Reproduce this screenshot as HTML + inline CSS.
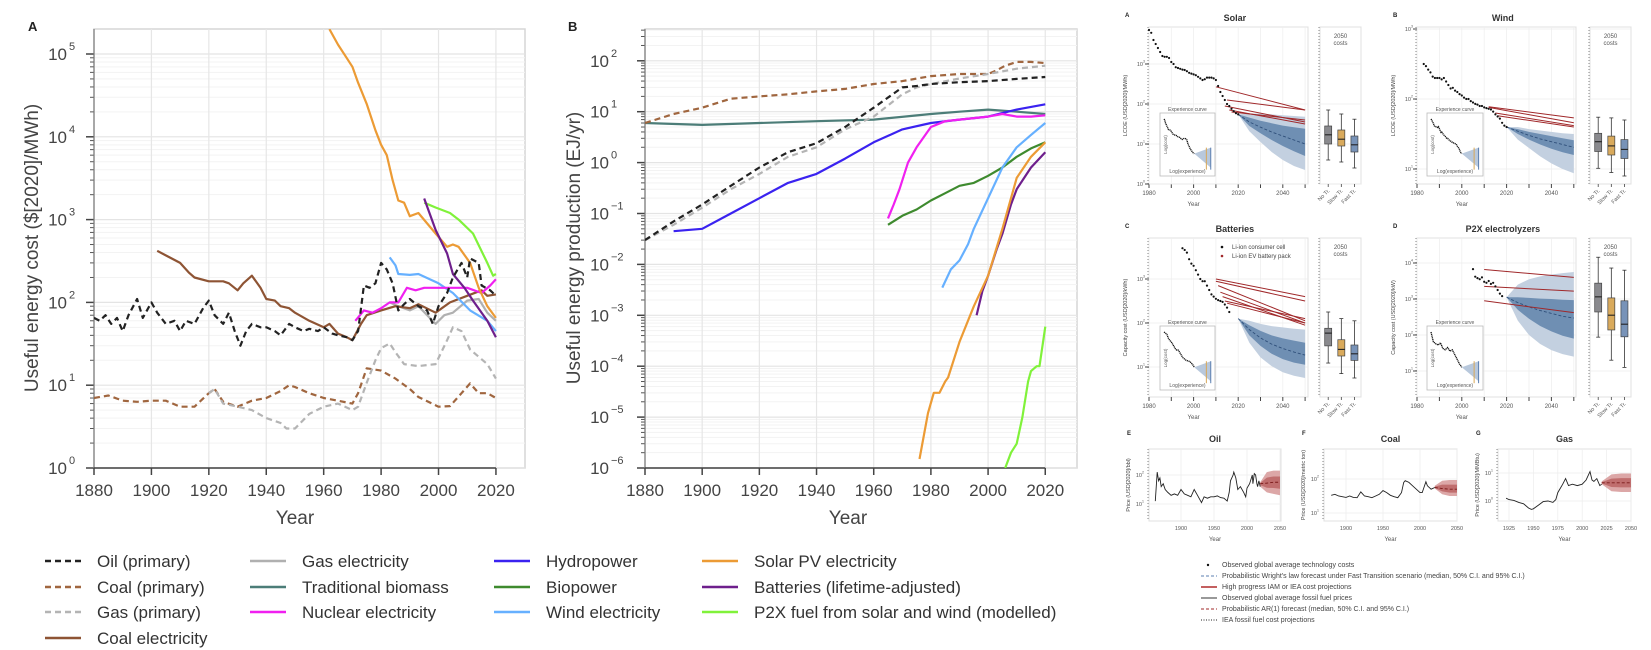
<!DOCTYPE html>
<html><head><meta charset="utf-8"><title>Energy costs and production</title>
<style>
html,body{margin:0;padding:0;background:#fff;}
svg{display:block;font-family:"Liberation Sans",sans-serif;}
</style></head>
<body>
<svg id="fig" width="1651" height="650" viewBox="0 0 1651 650" xmlns="http://www.w3.org/2000/svg">
<defs>
<clipPath id="clipA"><rect x="94" y="29" width="431" height="439"/></clipPath>
<clipPath id="clipB"><rect x="645" y="29" width="432" height="439"/></clipPath>
</defs>
<rect x="0" y="0" width="1651" height="650" fill="#fff"/>
<text x="28" y="31" font-size="13" font-weight="bold" fill="#222">A</text>
<text x="568" y="31" font-size="13" font-weight="bold" fill="#222">B</text>
<text transform="translate(38,248) rotate(-90)" text-anchor="middle" font-size="19" fill="#444">Useful energy cost ($[2020]/MWh)</text>
<text transform="translate(580,248) rotate(-90)" text-anchor="middle" font-size="19" fill="#444">Useful energy production (EJ/yr)</text>
<text x="295" y="524" text-anchor="middle" font-size="19" fill="#444">Year</text>
<text x="848" y="524" text-anchor="middle" font-size="19" fill="#444">Year</text>
<g id="legendMain"></g>
<g id="right"></g>
</svg>
<script>
// ===== Panel A data (cost, $/MWh) =====
const oilCostYears=[1880,1882,1884,1886,1888,1890,1892,1895,1897,1900,1902,1905,1908,1910,1912,1915,1918,1920,1922,1925,1927,1929,1931,1933,1935,1938,1940,1943,1945,1948,1950,1953,1955,1958,1960,1963,1965,1968,1970,1972,1974,1976,1978,1980,1982,1984,1986,1988,1990,1993,1996,1998,2000,2003,2005,2008,2010,2011,2014,2015,2018,2020];
const oilCostVals=[65,60,70,55,65,45,70,110,65,100,75,55,60,45,60,55,85,105,70,55,75,45,30,45,55,50,50,45,40,55,50,45,48,45,50,42,40,38,35,45,160,150,170,300,250,170,80,95,110,90,80,55,90,130,200,300,200,340,300,160,140,120];
const coalPrimCostYears=[1880,1885,1890,1895,1900,1905,1910,1915,1920,1922,1925,1930,1935,1940,1945,1948,1950,1955,1960,1965,1970,1972,1975,1980,1985,1990,1993,2000,2004,2008,2011,2014,2017,2020];
const coalPrimCostVals=[7,7.5,6.5,6.3,6.5,6.5,5.5,5.5,8,9,6.3,5.5,6.5,7,8.5,10,9.5,8,7,6.5,6,8,16,15,12,9,7.2,5.5,5.6,8,10.5,8,8,7];
const gasPrimCostYears=[1920,1922,1925,1930,1935,1940,1945,1947,1950,1955,1960,1965,1970,1972,1975,1978,1980,1983,1985,1988,1993,1999,2003,2005,2008,2011,2014,2017,2020];
const gasPrimCostVals=[8,9,6,5.5,5,4,3.5,3,3,4.5,5.5,6,5,5.5,10.7,20,28,32,25,18,17,18,35,50,45,27,22,18,12];
const coalElecYears=[1902,1905,1910,1913,1915,1920,1925,1927,1930,1932,1935,1938,1940,1943,1945,1948,1950,1955,1960,1962,1965,1968,1970,1973,1975,1980,1985,1990,1993,1999,2004,2010,2015,2017,2020];
const coalElecVals=[420,370,300,230,200,180,180,170,140,170,210,150,110,105,90,85,75,60,50,55,42,38,35,55,70,80,90,85,95,75,100,120,140,120,125];
const gasElecYears=[1983,1986,1990,1993,1999,2002,2005,2010,2014,2017,2020];
const gasElecVals=[100,90,80,90,55,70,75,105,110,75,60];
const nuclearCostYears=[1971,1974,1977,1980,1983,1986,1989,1992,1995,2000,2005,2010,2015,2018,2020];
const nuclearCostVals=[60,80,75,85,100,100,150,140,150,150,150,150,130,160,190];
const windCostYears=[1983,1985,1986,1990,1993,2000,2005,2011,2017,2020];
const windCostVals=[350,280,220,215,220,170,130,80,60,45];
const solarCostYears=[1962,1965,1968,1970,1972,1975,1978,1980,1982,1984,1986,1988,1990,1993,1999,2003,2005,2007,2011,2014,2017,2020];
const solarCostVals=[200000,130000,90000,70000,45000,25000,12000,8000,6000,3000,1700,1600,1100,1200,680,470,500,470,300,150,90,65];
const batteryCostYears=[1995,1999,2003,2005,2009,2012,2017,2020];
const batteryCostVals=[1800,750,390,220,150,105,60,38];
const p2xCostYears=[1995,1999,2004,2007,2012,2017,2019,2020];
const p2xCostVals=[1600,1400,1200,1000,680,300,210,220];
// ===== Panel B data (production, EJ/yr) =====
const coalProdYears=[1880,1890,1900,1910,1920,1930,1940,1950,1960,1970,1980,1990,2000,2003,2006,2010,2015,2020];
const coalProdVals=[6,9,12,18,20,22,25,28,35,40,50,55,55,65,80,95,95,90];
const biomassYears=[1880,1900,1920,1940,1960,1980,1990,2000,2010,2020];
const biomassVals=[6,5.5,6,6.5,7,9,10,11,10,9];
const oilProdYears=[1880,1890,1900,1910,1920,1930,1940,1950,1960,1970,1975,1980,1990,2000,2010,2020];
const oilProdVals=[0.03,0.07,0.15,0.35,0.8,1.6,2.4,5,12,30,32,35,38,40,44,48];
const gasProdYears=[1880,1890,1900,1910,1920,1930,1940,1950,1960,1970,1975,1980,1990,2000,2010,2020];
const gasProdVals=[0.03,0.06,0.13,0.3,0.6,1.3,2,4.5,8,22,30,35,45,55,70,80];
const hydroYears=[1890,1900,1910,1920,1930,1940,1950,1960,1970,1980,1990,2000,2010,2020];
const hydroVals=[0.045,0.05,0.1,0.2,0.4,0.6,1.2,2.5,4.5,6,7,8,11,14];
const nuclearProdYears=[1965,1967,1969,1972,1975,1980,1985,1990,2000,2005,2010,2015,2020];
const nuclearProdVals=[0.08,0.15,0.3,1,2,5,6.5,7,8,9,8,8,8.5];
const bioYears=[1965,1970,1975,1980,1985,1990,1995,2000,2005,2010,2015,2020];
const bioVals=[0.06,0.09,0.12,0.18,0.25,0.35,0.4,0.55,0.8,1.3,1.9,2.5];
const windProdYears=[1984,1987,1990,1993,1995,2000,2005,2010,2015,2020];
const windProdVals=[0.0035,0.008,0.012,0.025,0.05,0.2,0.8,2,3.5,6];
const batteryProdYears=[1996,1998,2000,2003,2005,2008,2010,2015,2020];
const batteryProdVals=[0.001,0.003,0.006,0.02,0.04,0.15,0.3,0.8,1.6];
const solarProdYears=[1976,1979,1981,1983,1985,1986,1990,1995,2000,2005,2010,2015,2020];
const solarProdVals=[0.0000015,0.000012,0.00003,0.00003,0.00005,0.00006,0.0003,0.0015,0.006,0.05,0.5,1.3,2.5];
const p2xProdYears=[2006,2008,2010,2012,2014,2015,2017,2018,2020];
const p2xProdVals=[0.000001,0.000002,0.000003,0.00001,0.00005,0.00008,0.0001,0.0001,0.0006];
// ===== Tick labels =====
const yearTicks=[1880,1900,1920,1940,1960,1980,2000,2020];
const costExps=[0,1,2,3,4,5];
const prodExps=[-6,-5,-4,-3,-2,-1,0,1,2];

const NS='http://www.w3.org/2000/svg';
const svg=document.getElementById('fig');
function mk(tag,attrs,parent){const e=document.createElementNS(NS,tag);for(const k in attrs)e.setAttribute(k,attrs[k]);(parent||svg).appendChild(e);return e;}

const C={oil:'#222',coalP:'#a0663f',gasP:'#b4b4b4',coalE:'#8e5434',gasE:'#b0b0b0',bio:'#4c7d78',nuc:'#f020f0',hydro:'#3a22f0',biop:'#3e8a2e',wind:'#66b0ff',solar:'#ec9b35',bat:'#6e1f8c',p2x:'#80f23a'};

function mainPanel(p){
  const g=mk('g',{});
  
  
  const X=yr=>p.x0+(yr-1880)*p.ppy;
  const Y=lg=>p.yb-(lg-p.logMin)*p.dec;
  const fr=mk('rect',{x:p.x0,y:p.yt,width:p.x1-p.x0,height:p.yb-p.yt,fill:'#fff',stroke:'#d6d6d6','stroke-width':1.5},g);
  
  
  for(let e=p.logMin;e<=p.logMax+1;e++){
    for(let k=2;k<10;k++){const lg=e+Math.log10(k);if(lg>p.logTop)break;
      const y=Y(lg);
      const gl=mk('line',{x1:p.x0,x2:p.x1,y1:y,y2:y,stroke:'#f3f3f3','stroke-width':1},g);
      
      
      const tk=mk('line',{x1:p.x0-4,x2:p.x0,y1:y,y2:y,stroke:'#555','stroke-width':1},g);
      
      
    }
  }
  p.exps.forEach(e=>{const y=Y(e);
    const gl=mk('line',{x1:p.x0,x2:p.x1,y1:y,y2:y,stroke:'#e4e4e4','stroke-width':1.2},g);
    
    
    const tk=mk('line',{x1:p.x0-8,x2:p.x0,y1:y,y2:y,stroke:'#444','stroke-width':1.5},g);
    
    
    const t=mk('text',{x:p.labX,y:y+6,'text-anchor':'end','font-size':17,fill:'#444'},g);
    
    
    t.textContent='10';
    const s=mk('text',{x:p.labX+2,y:y-4,'font-size':11,fill:'#444'},g);
    
    
    s.textContent=e<0?'\u2212'+(-e):String(e);
  });
  yearTicks.forEach(yr=>{const x=X(yr);
    const gl=mk('line',{x1:x,x2:x,y1:p.yt,y2:p.yb,stroke:'#e6e6e6','stroke-width':1.2},g);
    
    
    const tk=mk('line',{x1:x,x2:x,y1:p.yb,y2:p.yb+7,stroke:'#444','stroke-width':1.5},g);
    
    
    const t=mk('text',{x:x,y:p.yb+28,'text-anchor':'middle','font-size':17,fill:'#444'},g);
    
    
    t.textContent=yr;
  });
  const ax=mk('line',{x1:p.x0,x2:p.x0,y1:p.yt,y2:p.yb,stroke:'#666','stroke-width':1},g);
  
  
  const ax2=mk('line',{x1:X(1880),x2:X(2020),y1:p.yb,y2:p.yb,stroke:'#444','stroke-width':1.5},g);
  
  
  const sg=mk('g',{'clip-path':'url(#'+p.clip+')'},g);
  
  
  p.series.forEach(s=>{
    const pts=s.yrs.map((yr,i)=>X(yr).toFixed(1)+','+Y(Math.log10(s.vals[i])).toFixed(1)).join(' ');
    const a={points:pts,fill:'none',stroke:s.c,'stroke-width':2.2,'stroke-linejoin':'round'};
    if(s.d)a['stroke-dasharray']='6,4';
    const pl=mk('polyline',a,sg);
    
    
  });
}

mainPanel({name:'panel-a-cost-chart',x0:94,x1:525,yt:29,yb:468,ppy:2.871,logMin:0,logMax:5,logTop:5.3,dec:82.8,exps:costExps,labX:67,clip:'clipA',
 series:[
  {n:'line-coal-primary-cost',yrs:coalPrimCostYears,vals:coalPrimCostVals,c:C.coalP,d:1},
  {n:'line-gas-primary-cost',yrs:gasPrimCostYears,vals:gasPrimCostVals,c:C.gasP,d:1},
  {n:'line-gas-electricity-cost',yrs:gasElecYears,vals:gasElecVals,c:C.gasE},
  {n:'line-coal-electricity-cost',yrs:coalElecYears,vals:coalElecVals,c:C.coalE},
  {n:'line-wind-cost',yrs:windCostYears,vals:windCostVals,c:C.wind},
  {n:'line-nuclear-cost',yrs:nuclearCostYears,vals:nuclearCostVals,c:C.nuc},
  {n:'line-solar-cost',yrs:solarCostYears,vals:solarCostVals,c:C.solar},
  {n:'line-p2x-cost',yrs:p2xCostYears,vals:p2xCostVals,c:C.p2x},
  {n:'line-batteries-cost',yrs:batteryCostYears,vals:batteryCostVals,c:C.bat},
  {n:'line-oil-primary-cost',yrs:oilCostYears,vals:oilCostVals,c:C.oil,d:1}
 ]});
mainPanel({name:'panel-b-production-chart',x0:645,x1:1077,yt:29,yb:468,ppy:2.859,logMin:-6,logMax:2,logTop:2.63,dec:50.9,exps:prodExps,labX:609,clip:'clipB',
 series:[
  {n:'line-biomass-production',yrs:biomassYears,vals:biomassVals,c:C.bio},
  {n:'line-coal-primary-production',yrs:coalProdYears,vals:coalProdVals,c:C.coalP,d:1},
  {n:'line-gas-primary-production',yrs:gasProdYears,vals:gasProdVals,c:C.gasP,d:1},
  {n:'line-oil-primary-production',yrs:oilProdYears,vals:oilProdVals,c:C.oil,d:1},
  {n:'line-hydropower-production',yrs:hydroYears,vals:hydroVals,c:C.hydro},
  {n:'line-nuclear-production',yrs:nuclearProdYears,vals:nuclearProdVals,c:C.nuc},
  {n:'line-biopower-production',yrs:bioYears,vals:bioVals,c:C.biop},
  {n:'line-wind-production',yrs:windProdYears,vals:windProdVals,c:C.wind},
  {n:'line-batteries-production',yrs:batteryProdYears,vals:batteryProdVals,c:C.bat},
  {n:'line-solar-production',yrs:solarProdYears,vals:solarProdVals,c:C.solar},
  {n:'line-p2x-production',yrs:p2xProdYears,vals:p2xProdVals,c:C.p2x}
 ]});

// ===== Main legend =====
const legendLabels=['Oil (primary)','Coal (primary)','Gas (primary)','Coal electricity','Gas electricity','Traditional biomass','Nuclear electricity','Hydropower','Biopower','Wind electricity','Solar PV electricity','Batteries (lifetime-adjusted)','P2X fuel from solar and wind (modelled)'];
const legendColors=[C.oil,C.coalP,C.gasP,C.coalE,C.gasE,C.bio,C.nuc,C.hydro,C.biop,C.wind,C.solar,C.bat,C.p2x];
const legendCols=[[0,1,2,3],[4,5,6],[7,8,9],[10,11,12]];
const colX=[45,250,494,702];
const rowY=[561,587,612,638];
const lg=document.getElementById('legendMain');
legendCols.forEach((col,ci)=>col.forEach((idx,ri)=>{
  const y=rowY[ri],x=colX[ci];
  const a={x1:x,x2:x+36,y1:y,y2:y,stroke:legendColors[idx],'stroke-width':2.5};
  if(idx<3)a['stroke-dasharray']='6,4';
  const l=mk('line',a,lg);
  
  
  const t=mk('text',{x:x+52,y:y+6,'font-size':17,fill:'#333'},lg);
  
  
  t.textContent=legendLabels[idx];
}));

// ===== Right figure: technology cost panels =====
const bandYears=[2020,2025,2030,2035,2040,2045,2050];
const solarObsYears=[1980,1981,1982,1983,1984,1985,1986,1987,1988,1989,1990,1991,1992,1993,1994,1995,1996,1997,1998,1999,2000,2001,2002,2003,2004,2005,2006,2007,2008,2009,2010,2011,2012,2013,2014,2015,2016,2017,2018,2019,2020];
const solarObsLog=[3.85,3.78,3.6,3.5,3.4,3.3,3.2,3.18,3.18,3.15,3.05,3.0,2.92,2.9,2.88,2.86,2.85,2.82,2.78,2.76,2.74,2.72,2.68,2.64,2.6,2.62,2.66,2.66,2.66,2.64,2.6,2.45,2.3,2.2,2.1,2.0,1.95,1.88,1.82,1.77,1.74];
const solarMed=[1.74,1.55,1.42,1.3,1.2,1.1,1.0];
const solarHi50=[1.74,1.66,1.58,1.52,1.46,1.42,1.38];
const solarLo50=[1.74,1.45,1.27,1.1,0.95,0.82,0.7];
const solarHi95=[1.74,1.76,1.76,1.74,1.72,1.7,1.68];
const solarLo95=[1.74,1.32,1.05,0.8,0.6,0.45,0.35];
const solarRedStartYear=[2010,2015,2014,2016,2017];
const solarRedStart=[2.43,2.1,1.95,1.85,1.8];
const solarRedEnd=[1.85,1.85,1.55,1.5,1.6];
const solarBoxes=[[0.6,1.0,1.23,1.45,1.85],[0.55,0.95,1.12,1.35,1.75],[0.4,0.8,0.98,1.2,1.62]];

const windObsYears=[1983,1984,1985,1986,1987,1988,1989,1990,1991,1992,1993,1994,1995,1996,1997,1998,1999,2000,2001,2002,2003,2004,2005,2006,2007,2008,2009,2010,2011,2012,2013,2014,2015,2016,2017,2018,2019,2020];
const windObsLog=[2.5,2.47,2.42,2.38,2.32,2.3,2.3,2.3,2.28,2.3,2.25,2.2,2.15,2.16,2.12,2.1,2.07,2.05,2.02,2.0,2.0,1.97,1.95,1.93,1.92,1.9,1.9,1.88,1.87,1.86,1.85,1.82,1.78,1.75,1.72,1.66,1.62,1.6];
const windMed=[1.6,1.54,1.48,1.43,1.39,1.35,1.31];
const windHi50=[1.6,1.57,1.53,1.5,1.47,1.44,1.41];
const windLo50=[1.6,1.5,1.42,1.35,1.29,1.24,1.2];
const windHi95=[1.6,1.6,1.57,1.55,1.53,1.51,1.5];
const windLo95=[1.6,1.42,1.3,1.18,1.08,1.0,0.94];
const windRedStartYear=[2012,2012,2015,2016];
const windRedStart=[1.89,1.88,1.8,1.76];
const windRedEnd=[1.73,1.66,1.62,1.6];
const windBoxes=[[1.01,1.25,1.39,1.51,1.74],[0.95,1.2,1.33,1.47,1.73],[0.9,1.15,1.28,1.42,1.7]];

const batObsYears=[1995,1996,1997,1998,1999,2000,2001,2002,2003,2004,2005,2006,2007,2008,2009,2010,2011,2012,2013,2014,2015,2016];
const batObsLog=[3.7,3.66,3.6,3.45,3.35,3.3,3.2,3.1,3.0,2.95,2.95,2.85,2.75,2.65,2.6,2.55,2.52,2.5,2.48,2.42,2.35,2.25];
const batMed=[2.1,1.85,1.66,1.52,1.42,1.34,1.27];
const batHi50=[2.1,1.95,1.82,1.72,1.65,1.6,1.55];
const batLo50=[2.1,1.72,1.48,1.3,1.18,1.1,1.05];
const batHi95=[2.1,2.05,1.98,1.93,1.9,1.87,1.85];
const batLo95=[2.1,1.55,1.22,1.02,0.88,0.8,0.75];
const batRedStartYear=[2010,2010,2011,2012,2013,2014,2015];
const batRedStart=[3.0,2.95,2.85,2.7,2.6,2.5,2.45];
const batRedEnd=[2.6,2.5,2.05,2.0,1.95,2.1,2.0];
const batBoxes=[[1.09,1.48,1.77,1.88,2.25],[0.85,1.25,1.4,1.62,2.1],[0.75,1.15,1.3,1.5,2.05]];

const p2xObsYears=[2005,2006,2007,2008,2009,2010,2011,2012,2013,2014,2015,2016,2017,2018];
const p2xObsLog=[3.83,3.62,3.58,3.55,3.6,3.48,3.45,3.5,3.42,3.45,3.35,3.25,3.15,3.08];
const p2xMed=[3.05,2.9,2.78,2.68,2.6,2.52,2.47];
const p2xHi50=[3.05,3.05,3.03,3.01,3.0,2.98,2.97];
const p2xLo50=[3.05,2.7,2.45,2.25,2.1,1.98,1.9];
const p2xHi95=[3.05,3.4,3.55,3.63,3.68,3.72,3.75];
const p2xLo95=[3.05,2.4,2.0,1.75,1.58,1.47,1.4];
const p2xRedStartYear=[2010,2010,2010];
const p2xRedStart=[3.82,3.35,2.95];
const p2xRedEnd=[3.6,3.22,2.62];
const p2xBoxes=[[1.94,2.64,3.06,3.44,4.16],[1.3,2.14,2.55,3.03,3.86],[1.1,1.95,2.3,2.95,3.8]];

const rg=document.getElementById('right');
function txt(x,y,s,size,attrs,name){const a=Object.assign({x:x,y:y,'font-size':size,fill:'#333'},attrs||{});const t=mk('text',a,rg);t.textContent=s;return t;}

function techPanel(p){
  const X=yr=>p.x0+(yr-1980)*p.ppy;
  const Y=lg=>p.yRef-(lg-p.logRef)*p.dec;
  const fr=mk('rect',{x:p.x0,y:p.yt,width:p.x1-p.x0,height:p.yb-p.yt,fill:'#fff',stroke:'#e0e0e0','stroke-width':1},rg);
  
  
  [1980,1990,2000,2010,2020,2030,2040,2050].forEach(yr=>{
    const gl=mk('line',{x1:X(yr),x2:X(yr),y1:p.yt,y2:p.yb,stroke:'#efefef','stroke-width':0.8},rg);
    
    
    if(yr%10===0&&yr<=2050){
      const tk=mk('line',{x1:X(yr),x2:X(yr),y1:p.yb,y2:p.yb+4,stroke:'#444','stroke-width':1},rg);
      
      
    }
    if(yr%20===0)txt(X(yr),p.yb+11,String(yr),6,{'text-anchor':'middle',fill:'#555'},'x-tick-label');
  });
  p.exps.forEach(e=>{const y=Y(e);
    const gl=mk('line',{x1:p.x0,x2:p.x1,y1:y,y2:y,stroke:'#ececec','stroke-width':0.8},rg);
    
    
    txt(p.x0-6,y+2,'10',5.5,{'text-anchor':'end',fill:'#555'},'y-tick-label');
    txt(p.x0-6,y-1.5,String(e),3.5,{fill:'#555'},'y-tick-exponent');
    const tk=mk('line',{x1:p.x0-4,x2:p.x0,y1:y,y2:y,stroke:'#444','stroke-width':1},rg);
    
    
  });
  const ax=mk('line',{x1:p.x0-1,x2:p.x0-1,y1:p.yt,y2:p.yb,stroke:'#666','stroke-width':0.8,'stroke-dasharray':'1,2'},rg);
  
  
  txt(p.x0+(p.x1-p.x0)*0.54,p.yt-6,p.title,9,{'text-anchor':'middle','font-weight':'bold',fill:'#333'},'panel-title');
  txt(p.x0-24,p.yt-10,p.label,6,{'font-weight':'bold',fill:'#222'},'panel-label');
  txt(X(2000),p.yb+22,'Year',6,{'text-anchor':'middle',fill:'#555'},'x-axis-title');
  const yt=txt(0,0,p.ylab,5.5,{'text-anchor':'middle',fill:'#444',transform:'translate('+(p.x0-22)+','+((p.yt+p.yb)/2)+') rotate(-90)'},'y-axis-title');
  // bands
  const poly=(hi,lo)=>bandYears.map((yr,i)=>X(yr)+','+Y(hi[i])).concat(bandYears.slice().reverse().map((yr,j)=>X(yr)+','+Y(lo[bandYears.length-1-j]))).join(' ');
  const b95=mk('polygon',{points:poly(p.hi95,p.lo95),fill:'#c3d0e0'},rg);
  
  
  const b50=mk('polygon',{points:poly(p.hi50,p.lo50),fill:'#6f8fb3'},rg);
  
  
  const md=mk('polyline',{points:bandYears.map((yr,i)=>X(yr)+','+Y(p.med[i])).join(' '),fill:'none',stroke:'#2f4f7a','stroke-width':0.9,'stroke-dasharray':'3,2'},rg);
  
  
  p.redSY.forEach((sy,i)=>{
    const l=mk('line',{x1:X(sy),y1:Y(p.redS[i]),x2:X(2050),y2:Y(p.redE[i]),stroke:'#a0282a','stroke-width':1},rg);
    
    
  });
  p.obsY.forEach((yr,i)=>{
    const c=mk('circle',{cx:X(yr),cy:Y(p.obs[i]),r:1.1,fill:'#111'},rg);
    
    
  });
  // inset
  const ins=mk('rect',{x:p.inset[0],y:p.inset[1],width:p.inset[2],height:p.inset[3],fill:'#fff',stroke:'#bbb','stroke-width':0.8},rg);
  
  
  txt(p.inset[0]+p.inset[2]/2,p.inset[1]-2,'Experience curve',5,{'text-anchor':'middle',fill:'#555'},'inset-title');
  txt(p.inset[0]+p.inset[2]/2,p.inset[1]+p.inset[3]-3,'Log(experience)',5,{'text-anchor':'middle',fill:'#555'},'inset-x-label');
  txt(0,0,'Log(cost)',4.5,{'text-anchor':'middle',fill:'#555',transform:'translate('+(p.inset[0]+7)+','+(p.inset[1]+p.inset[3]/2)+') rotate(-90)'},'inset-y-label');
  const n=p.obs.length,ix0=p.inset[0]+4,iw=p.inset[2]*0.55,iy0=p.inset[1]+6,ih=p.inset[3]*0.55;
  const omax=Math.max.apply(null,p.obs),omin=Math.min.apply(null,p.obs);
  const ipts=p.obs.map((v,i)=>(ix0+iw*i/(n-1)).toFixed(1)+','+(iy0+ih*(omax-v)/(omax-omin)).toFixed(1)).join(' ');
  const il=mk('polyline',{points:ipts,fill:'none',stroke:'#111','stroke-width':1.3,'stroke-dasharray':'1.2,0.6'},rg);
  
  
  const ex=ix0+iw,ey=iy0+ih;
  const ib=mk('polygon',{points:ex+','+ey+' '+(ex+p.inset[2]*0.3)+','+(ey-6)+' '+(ex+p.inset[2]*0.3)+','+(ey+14)},rg);
  ib.setAttribute('fill','#b8c8dc');
  
  
  [[0.22,'#d9a857'],[0.3,'#5b7fb0']].forEach(v=>{
    const l=mk('line',{x1:ex+p.inset[2]*v[0],x2:ex+p.inset[2]*v[0],y1:ey-6,y2:ey+16,stroke:v[1],'stroke-width':1},rg);
    
    
  });
  // box panel
  const bp=mk('rect',{x:p.bx0,y:p.yt,width:p.bx1-p.bx0,height:p.yb-p.yt,fill:'#fff',stroke:'#e0e0e0','stroke-width':1},rg);
  
  
  p.exps.forEach(e=>{const gl=mk('line',{x1:p.bx0,x2:p.bx1,y1:Y(e),y2:Y(e),stroke:'#ececec','stroke-width':0.8},rg);
    
    });
  const bax=mk('line',{x1:p.bx0-1,x2:p.bx0-1,y1:p.yt,y2:p.yb,stroke:'#666','stroke-width':0.8,'stroke-dasharray':'1,2'},rg);
  
  
  const cx=(p.bx0+p.bx1)/2;
  txt(cx,p.yt+11,'2050',6,{'text-anchor':'middle',fill:'#555'},'box-panel-title');
  txt(cx,p.yt+18,'costs',6,{'text-anchor':'middle',fill:'#555'},'box-panel-title');
  const boxCols=['#8a8a8e','#d9aa5c','#7893b8'];
  const boxNames=['No Tr.','Slow Tr.','Fast Tr.'];
  p.boxes.forEach((b,i)=>{const x=p.bx0+(p.bx1-p.bx0)*(0.2+0.32*i);
    const w=mk('line',{x1:x,x2:x,y1:Y(b[0]),y2:Y(b[4]),stroke:'#333','stroke-width':0.8},rg);
    
    
    [0,4].forEach(k=>{const c=mk('line',{x1:x-2,x2:x+2,y1:Y(b[k]),y2:Y(b[k]),stroke:'#333','stroke-width':0.8},rg);
      
      });
    const r=mk('rect',{x:x-3.5,y:Y(b[3]),width:7,height:Y(b[1])-Y(b[3]),fill:boxCols[i],stroke:'#444','stroke-width':0.7},rg);
    
    
    const m=mk('line',{x1:x-3.5,x2:x+3.5,y1:Y(b[2]),y2:Y(b[2]),stroke:'#222','stroke-width':1.1},rg);
    
    
    const tk=mk('line',{x1:x,x2:x,y1:p.yb,y2:p.yb+3,stroke:'#444','stroke-width':0.8},rg);
    
    
    txt(0,0,boxNames[i],5.5,{'text-anchor':'end',fill:'#555',transform:'translate('+(x+2)+','+(p.yb+7)+') rotate(-45)'},'box-category-label');
  });
}
techPanel({name:'solar-panel',title:'Solar',label:'A',x0:1149,x1:1308,yt:27,yb:184,ppy:2.23,yRef:184,logRef:0,dec:40,exps:[0,1,2,3],ylab:'LCOE (USD[2020]/MWh)',
 obsY:solarObsYears,obs:solarObsLog,med:solarMed,hi50:solarHi50,lo50:solarLo50,hi95:solarHi95,lo95:solarLo95,redSY:solarRedStartYear,redS:solarRedStart,redE:solarRedEnd,boxes:solarBoxes,inset:[1160,113,55,63],bx0:1320,bx1:1361});
techPanel({name:'wind-panel',title:'Wind',label:'B',x0:1417,x1:1576,yt:27,yb:184,ppy:2.24,yRef:169,logRef:1,dec:70,exps:[1,2,3],ylab:'LCOE (USD[2020]/MWh)',
 obsY:windObsYears,obs:windObsLog,med:windMed,hi50:windHi50,lo50:windLo50,hi95:windHi95,lo95:windLo95,redSY:windRedStartYear,redS:windRedStart,redE:windRedEnd,boxes:windBoxes,inset:[1427,113,56,63],bx0:1590,bx1:1631});
techPanel({name:'batteries-panel',title:'Batteries',label:'C',x0:1149,x1:1308,yt:238,yb:397,ppy:2.23,yRef:279,logRef:3,dec:44,exps:[1,2,3],ylab:'Capacity cost (USD[2020]/kWh)',
 obsY:batObsYears,obs:batObsLog,med:batMed,hi50:batHi50,lo50:batLo50,hi95:batHi95,lo95:batLo95,redSY:batRedStartYear,redS:batRedStart,redE:batRedEnd,boxes:batBoxes,inset:[1160,326,55,64],bx0:1320,bx1:1361});
techPanel({name:'p2x-electrolyzers-panel',title:'P2X electrolyzers',label:'D',x0:1417,x1:1576,yt:238,yb:397,ppy:2.24,yRef:263,logRef:4,dec:36,exps:[1,2,3,4],ylab:'Capacity cost (USD[2020]/kW)',
 obsY:p2xObsYears,obs:p2xObsLog,med:p2xMed,hi50:p2xHi50,lo50:p2xLo50,hi95:p2xHi95,lo95:p2xLo95,redSY:p2xRedStartYear,redS:p2xRedStart,redE:p2xRedEnd,boxes:p2xBoxes,inset:[1427,326,56,64],bx0:1590,bx1:1631});
// battery legend
const bl1=mk('circle',{cx:1222,cy:247,r:1.3,fill:'#111'},rg);


txt(1232,249,'Li-ion consumer cell',6,{fill:'#444'},'legend-entry');
const bl2=mk('circle',{cx:1222,cy:256,r:1.3,fill:'#a0282a'},rg);


txt(1232,258,'Li-ion EV battery pack',6,{fill:'#444'},'legend-entry');

// ===== Fossil fuel price panels =====
const oilPriceYears=[1861,1864,1866,1868,1870,1873,1876,1880,1885,1890,1895,1900,1905,1910,1915,1920,1925,1931,1935,1940,1945,1950,1955,1960,1965,1970,1973,1975,1979,1980,1983,1986,1990,1995,1998,2000,2004,2008,2009,2011,2013,2015,2016,2018,2020];
const oilPriceVals=[1.1,2.1,1.8,1.9,1.6,1.7,1.5,1.4,1.3,1.35,1.3,1.5,1.35,1.3,1.25,1.5,1.3,1.05,1.25,1.2,1.25,1.25,1.28,1.22,1.2,1.1,1.4,1.8,2.0,2.1,1.9,1.5,1.6,1.4,1.25,1.55,1.7,2.0,1.7,2.05,2.0,1.7,1.6,1.8,1.6];
const coalPriceYears=[1880,1885,1890,1895,1900,1905,1910,1915,1920,1925,1930,1935,1940,1945,1950,1955,1960,1965,1970,1975,1978,1980,1985,1990,1995,2000,2003,2008,2010,2015,2020];
const coalPriceVals=[1.52,1.55,1.5,1.48,1.46,1.5,1.46,1.45,1.62,1.5,1.48,1.45,1.5,1.55,1.66,1.6,1.52,1.48,1.45,1.6,1.9,1.95,1.9,1.8,1.7,1.6,1.6,1.92,1.8,1.7,1.75];
const gasPriceYears=[1922,1925,1930,1935,1940,1945,1948,1950,1955,1960,1965,1970,1973,1975,1980,1983,1986,1990,1995,2000,2004,2008,2010,2012,2015,2018,2020];
const gasPriceVals=[0.1,0.05,0.02,-0.05,-0.1,-0.25,-0.3,-0.28,-0.15,-0.02,0.0,-0.05,0.05,0.3,0.6,0.8,0.55,0.6,0.55,0.6,0.75,1.05,0.75,0.7,0.8,0.55,0.6];
const fossilFcYears=[2020,2030,2040,2050];
const oilFcMed=[1.7,1.72,1.75,1.75];
const oilFcHi=[1.75,2.1,2.15,2.15];
const oilFcLo=[1.6,1.4,1.35,1.3];
const coalFcMed=[1.75,1.72,1.7,1.7];
const coalFcHi=[1.8,1.95,1.97,1.97];
const coalFcLo=[1.72,1.55,1.5,1.5];
const gasFcMed=[0.65,0.65,0.65,0.65];
const gasFcHi=[0.7,0.95,0.98,0.98];
const gasFcLo=[0.6,0.35,0.32,0.32];

function fossilPanel(p){
  const X=yr=>p.xRef+(yr-p.yrRef)*p.ppy;
  const Y=lg=>p.yRef-(lg-p.logRef)*p.dec;
  const fr=mk('rect',{x:p.x0,y:449,width:p.x1-p.x0,height:72,fill:'#fff',stroke:'#e0e0e0','stroke-width':1},rg);
  
  
  p.xt.forEach(yr=>{
    const gl=mk('line',{x1:X(yr),x2:X(yr),y1:449,y2:521,stroke:'#eee','stroke-width':0.8},rg);
    
    
    txt(X(yr),530,String(yr),5.5,{'text-anchor':'middle',fill:'#555'},'x-tick-label');
  });
  p.exps.forEach(e=>{const y=Y(e);
    const gl=mk('line',{x1:p.x0,x2:p.x1,y1:y,y2:y,stroke:'#eee','stroke-width':0.8},rg);
    
    
    txt(p.x0-7,y+2,'10',5.5,{'text-anchor':'end',fill:'#555'},'y-tick-label');
    txt(p.x0-7,y-1.5,String(e),3.5,{fill:'#555'},'y-tick-exponent');
  });
  const ax=mk('line',{x1:p.x0-1,x2:p.x0-1,y1:449,y2:521,stroke:'#666','stroke-width':0.8,'stroke-dasharray':'1,2'},rg);
  
  
  txt((p.x0+p.x1)/2,442,p.title,9,{'text-anchor':'middle','font-weight':'bold',fill:'#333'},'panel-title');
  txt(p.x0-22,435,p.label,6,{'font-weight':'bold',fill:'#222'},'panel-label');
  txt((p.x0+p.x1)/2,541,'Year',6,{'text-anchor':'middle',fill:'#555'},'x-axis-title');
  txt(0,0,p.ylab,5.5,{'text-anchor':'middle',fill:'#444',transform:'translate('+(p.x0-19)+',485) rotate(-90)'},'y-axis-title');
  const pts=(hi,lo)=>fossilFcYears.map((yr,i)=>X(yr)+','+Y(hi[i])).concat(fossilFcYears.slice().reverse().map((yr,j)=>X(yr)+','+Y(lo[fossilFcYears.length-1-j]))).join(' ');
  const b=mk('polygon',{points:pts(p.hi,p.lo),fill:'#dca7a7'},rg);
  
  
  const mid=p.med.map(v=>v);
  const b2=mk('polygon',{points:pts(mid.map((v,i)=>(v+p.hi[i])/2),mid.map((v,i)=>(v+p.lo[i])/2)),fill:'#c06e6e'},rg);
  
  
  const m=mk('polyline',{points:fossilFcYears.map((yr,i)=>X(yr)+','+Y(p.med[i])).join(' '),fill:'none',stroke:'#7a1a1a','stroke-width':0.9,'stroke-dasharray':'3,2'},rg);
  
  
  const l=mk('polyline',{points:p.yrs.map((yr,i)=>X(yr).toFixed(1)+','+Y(p.vals[i]).toFixed(1)).join(' '),fill:'none',stroke:'#222','stroke-width':0.9},rg);
  
  
}
fossilPanel({name:'oil-price',title:'Oil',label:'E',x0:1149,x1:1281,xRef:1181,yrRef:1900,ppy:0.66,yRef:504,logRef:1,dec:29,exps:[1,2],xt:[1900,1950,2000,2050],ylab:'Price (USD[2020]/bbl)',yrs:oilPriceYears,vals:oilPriceVals,med:oilFcMed,hi:oilFcHi,lo:oilFcLo});
fossilPanel({name:'coal-price',title:'Coal',label:'F',x0:1324,x1:1457,xRef:1346,yrRef:1900,ppy:0.74,yRef:513,logRef:1,dec:34,exps:[1,2],xt:[1900,1950,2000,2050],ylab:'Price (USD[2020]/metric ton)',yrs:coalPriceYears,vals:coalPriceVals,med:coalFcMed,hi:coalFcHi,lo:coalFcLo});
fossilPanel({name:'gas-price',title:'Gas',label:'G',x0:1498,x1:1631,xRef:1509,yrRef:1925,ppy:0.976,yRef:501,logRef:0,dec:28,exps:[0,1],xt:[1925,1950,1975,2000,2025,2050],ylab:'Price (USD[2020]/MMBtu)',yrs:gasPriceYears,vals:gasPriceVals,med:gasFcMed,hi:gasFcHi,lo:gasFcLo});

// ===== Right legend =====
const rLegText=['Observed global average technology costs',"Probabilistic Wright's law forecast under Fast Transition scenario (median, 50% C.I. and 95% C.I.)",'High progress IAM or IEA cost projections','Observed global average fossil fuel prices','Probabilistic AR(1) forecast (median, 50% C.I. and 95% C.I.)','IEA fossil fuel cost projections'];
const rLegY=[567,578,589,600,611,622];
const rLegStyle=[['#111','dot'],['#5b7fb0','3,2'],['#b02a2a','none'],['#333','none'],['#a0282a','3,2'],['#222','1,1.5']];
rLegText.forEach((s,i)=>{
  const y=rLegY[i];
  if(rLegStyle[i][1]==='dot'){const c=mk('circle',{cx:1208,cy:y-2,r:1.2,fill:'#111'},rg);}
  else{const a={x1:1201,x2:1217,y1:y-2,y2:y-2,stroke:rLegStyle[i][0],'stroke-width':i===2?1.5:1};if(rLegStyle[i][1]!=='none')a['stroke-dasharray']=rLegStyle[i][1];
    const l=mk('line',a,rg);}
  txt(1222,y,s,7,{fill:'#444'},'legend-entry');
});
</script>
</body></html>
